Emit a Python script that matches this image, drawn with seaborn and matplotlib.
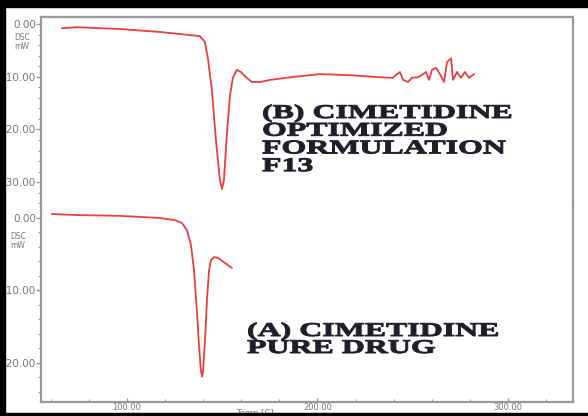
import numpy as np
import pandas as pd
import matplotlib
matplotlib.use("Agg")
import matplotlib.pyplot as plt
import seaborn as sns
from matplotlib.patches import Rectangle
from matplotlib.patheffects import AbstractPathEffect
from matplotlib.transforms import Affine2D
from matplotlib.ticker import MultipleLocator, FuncFormatter

# (B) optimized formulation F13 - temperature (C) and heat flow (mW)
temp_b = [65.9, 73.8, 96.3, 117.3, 138.3, 140.9, 142.5, 144.6, 146.7, 148.8,
          149.9, 150.9, 152.5, 154.1, 155.6, 157.7, 159.8, 162.5, 165.6, 169.8,
          175.1, 185.6, 201.3, 217.1, 232.8, 239.6, 241.7, 243.3, 244.9, 247.5,
          249.6, 252.8, 255.4, 257.0, 258.5, 260.1, 262.2, 264.3, 266.4, 268.0,
          270.1, 271.1, 273.2, 275.3, 277.4, 279.5, 282.2]
dsc_b = [-0.8, -0.6, -0.95, -1.5, -2.3, -3.4, -6.5, -12.5, -22.0, -29.6,
         -31.3, -29.6, -20.7, -13.5, -10.2, -8.7, -9.1, -10.1, -11.0, -11.0,
         -10.6, -10.1, -9.5, -9.7, -10.1, -10.2, -9.5, -9.1, -10.6, -11.0,
         -10.2, -10.1, -9.5, -9.1, -10.6, -8.7, -8.3, -9.5, -11.0, -7.2,
         -6.5, -10.6, -9.1, -10.2, -9.1, -10.2, -9.5]

# (A) pure cimetidine
temp_a = [60.6, 75.3, 96.3, 117.3, 125.2, 128.9, 131.5, 133.6, 135.2, 136.7,
          137.8, 138.8, 139.4, 139.9, 141.0, 142.0, 143.1, 144.1, 145.7, 147.8,
          151.4, 155.1]
dsc_a = [0.55, 0.4, 0.3, 0.0, -0.3, -0.7, -1.7, -3.7, -7.2, -12.7,
         -17.5, -21.0, -21.9, -21.2, -16.8, -11.3, -7.2, -5.8, -5.4, -5.5,
         -6.2, -6.9]

yticks_b = [0, -10, -20, -30]
yticks_a = [0, -10, -20]
xticks = [100, 200, 300]

df_a = pd.DataFrame({"Temp": temp_a, "DSC": dsc_a})
df_b = pd.DataFrame({"Temp": temp_b, "DSC": dsc_b})


class Stretch(AbstractPathEffect):
    # widen + embolden glyphs, the scanned labels are stretched and heavy
    def __init__(self, sx, stroke=0.7):
        super().__init__()
        self.sx = sx
        self.stroke = stroke

    def draw_path(self, renderer, gc, tpath, affine, rgbFace=None):
        tr = Affine2D().scale(self.sx, 1) + affine
        gc0 = renderer.new_gc()
        gc0.copy_properties(gc)
        gc0.set_linewidth(self.stroke)
        gc0.set_foreground(rgbFace)
        gc0.set_joinstyle("round")
        renderer.draw_path(gc0, tpath, tr, rgbFace)
        gc0.restore()


sns.set_theme(style="white")
plt.rcParams["font.family"] = ["DejaVu Sans"]

line_col = "#e8403e"
spine_col = "#999999"
tick_col = "#777777"

fig = plt.figure(figsize=(5.88, 4.16), dpi=100)
ax_b = fig.add_axes([0.0697, 0.5024, 0.9048, 0.4567])
ax_a = fig.add_axes([0.0697, 0.0337, 0.9048, 0.4687])

sns.lineplot(data=df_b, x="Temp", y="DSC", ax=ax_b, color=line_col, lw=1.3)
sns.lineplot(data=df_a, x="Temp", y="DSC", ax=ax_a, color=line_col, lw=1.3)

fmt = FuncFormatter(lambda v, pos: f"{v:.2f}")
for ax in (ax_a, ax_b):
    ax.set_xlim(54.9, 334.1)
    ax.set_xlabel("")
    ax.set_ylabel("")
    for s in ax.spines.values():
        s.set_color(spine_col)
        s.set_linewidth(1.6)
    ax.yaxis.set_minor_locator(MultipleLocator(2))
    ax.yaxis.set_major_formatter(fmt)
    ax.tick_params(axis="y", which="major", direction="out", length=3.5,
                   width=1, color=spine_col, labelsize=7.5, labelcolor=tick_col,
                   pad=0, left=True)
    ax.tick_params(axis="y", which="minor", direction="out", length=2,
                   width=0.8, color=spine_col, left=True)

ax_b.set_ylim(-34.7, 1.33)
ax_b.set_yticks(yticks_b)
ax_b.spines["bottom"].set_visible(False)
ax_b.tick_params(axis="x", which="both", bottom=False, labelbottom=False)

ax_a.set_ylim(-25.4, 1.52)
ax_a.set_yticks(yticks_a)
ax_a.spines["top"].set_visible(False)
ax_a.set_xticks(xticks)
ax_a.xaxis.set_minor_locator(MultipleLocator(20))
ax_a.xaxis.set_major_formatter(fmt)
ax_a.tick_params(axis="x", which="major", direction="in", length=3, width=1,
                 color=spine_col, labelsize=6, labelcolor=tick_col, pad=0.5,
                 bottom=True)
ax_a.tick_params(axis="x", which="minor", direction="in", length=2, width=0.8,
                 color=spine_col, bottom=True)
fig.text(255 / 588, 1 - 414 / 416, "Temp [C]", fontsize=6, color=tick_col,
         ha="center", va="center")

# DSC / mW unit labels under the zero tick
fig.text(22 / 588, 1 - 42 / 416, "DSC\nmW", fontsize=5.5, color=tick_col,
         ha="center", va="center", linespacing=1.0)
fig.text(18 / 588, 1 - 241 / 416, "DSC\nmW", fontsize=5.5, color=tick_col,
         ha="center", va="center", linespacing=1.0)

txt = dict(family="Liberation Serif", fontweight="bold", color="#1e1e2a",
           ha="left", va="baseline", fontsize=14,
           path_effects=[Stretch(1.64)])
lines_b = ["(B) CIMETIDINE", "OPTIMIZED", "FORMULATION", "F13"]
for i, s in enumerate(lines_b):
    fig.text(262 / 588, 1 - (118 + 17.7 * i) / 416, s, **txt)
lines_a = ["(A) CIMETIDINE", "PURE DRUG"]
for i, s in enumerate(lines_a):
    fig.text(247 / 588, 1 - (336 + 17 * i) / 416, s, **txt)

# black scan border (left, top, bottom)
W, H = 588, 416
for (x0, y0, w, h) in [(0, 0, 5, H), (0, H - 7, W, 7), (0, 0, W, 3)]:
    fig.patches.append(Rectangle((x0 / W, y0 / H), w / W, h / H,
                                 transform=fig.transFigure, color="black",
                                 zorder=20))

fig.savefig("out.png", dpi=100)
